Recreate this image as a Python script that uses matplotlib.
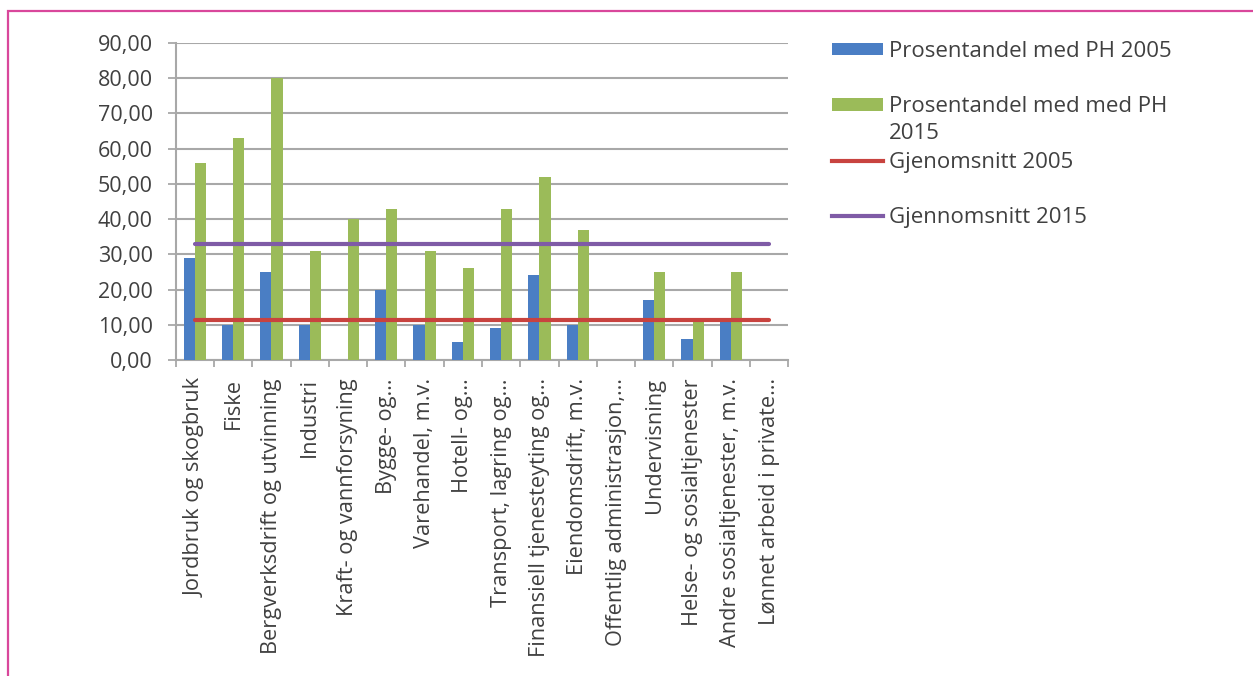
import matplotlib
matplotlib.use("Agg")
import matplotlib.pyplot as plt
import numpy as np
from matplotlib.patches import Rectangle, Patch
from matplotlib.lines import Line2D

categories = [
    "Jordbruk og skogbruk", "Fiske", "Bergverksdrift og utvinning", "Industri",
    "Kraft- og vannforsyning", "Bygge- og…", "Varehandel, m.v.", "Hotell- og…",
    "Transport, lagring og…", "Finansiell tjenesteyting og…", "Eiendomsdrift, m.v.",
    "Offentlig administrasjon,…", "Undervisning", "Helse- og sosialtjenester",
    "Andre sosialtjenester, m.v.", "Lønnet arbeid i private…",
]
ph_2005 = [29, 10, 25, 10, 0, 20, 10, 5, 9, 24, 10, 0, 17, 6, 11, 0]
ph_2015 = [56, 63, 80, 31, 40, 43, 31, 26, 43, 52, 37, 0, 25, 11, 25, 0]
avg_2005 = 11.4
avg_2015 = 33.0
yticks = [0, 10, 20, 30, 40, 50, 60, 70, 80, 90]

label_2005 = "Prosentandel med PH 2005"
label_2015 = "Prosentandel med med PH"
label_2015_line2 = "2015"
label_avg05 = "Gjenomsnitt 2005"
label_avg15 = "Gjennomsnitt 2015"

BLUE = "#4A7EC4"
GREEN = "#9BBB59"
RED = "#C8433F"
PURPLE = "#7F5BA6"
TXT = "#404040"
GRID = "#A8A8A8"

plt.rcParams["font.family"] = ["Open Sans", "DejaVu Sans"]

W, H = 1253, 676
fig = plt.figure(figsize=(W / 100, H / 100), dpi=100)
fig.patch.set_facecolor("white")

ax = fig.add_axes([175.7 / W, 1 - 360 / H, (788.3 - 175.7) / W, (360 - 43) / H])

x = np.arange(len(categories))
bw = 0.29
ax.bar(x - bw / 2, ph_2005, width=bw, color=BLUE, zorder=3)
ax.bar(x + bw / 2, ph_2015, width=bw, color=GREEN, zorder=3)
ax.plot([x[0], x[-1]], [avg_2005, avg_2005], color=RED, lw=3.0, solid_capstyle="round", zorder=4)
ax.plot([x[0], x[-1]], [avg_2015, avg_2015], color=PURPLE, lw=3.0, solid_capstyle="round", zorder=4)

ax.set_xlim(-0.5, len(categories) - 0.5)
ax.set_ylim(0, 90)
ax.set_yticks(yticks)
ax.set_yticklabels([f"{v:.2f}".replace(".", ",") for v in yticks], fontsize=15.5, color=TXT)
ax.yaxis.grid(True, color=GRID, lw=1.5, zorder=0)
ax.set_axisbelow(True)
ax.tick_params(axis="y", length=5.5, width=1.3, color=GRID, pad=11)

ax.set_xticks(x)
ax.set_xticklabels(categories, rotation=90, fontsize=15.7, color=TXT, ha="center", va="top")
ax.tick_params(axis="x", which="major", length=0, pad=13)
ax.set_xticks(np.arange(-0.5, len(categories)), minor=True)
ax.tick_params(axis="x", which="minor", length=5, width=1.3, color=GRID)

for s in ["top", "right"]:
    ax.spines[s].set_visible(False)
for s in ["left", "bottom"]:
    ax.spines[s].set_color(GRID)
    ax.spines[s].set_linewidth(1.5)

handles = [
    Patch(facecolor=BLUE, edgecolor="none"),
    Patch(facecolor=GREEN, edgecolor="none"),
    Line2D([], [], color=RED, lw=3.0),
    Line2D([], [], color=PURPLE, lw=3.0),
]
labels = [label_2005, label_2015, label_avg05, label_avg15]
leg = fig.legend(handles, labels, loc="upper left", bbox_to_anchor=(832 / W, 1 - 41 / H),
                 frameon=False, fontsize=16, labelcolor=TXT, borderpad=0, borderaxespad=0,
                 handlelength=2.3, handleheight=0.5, handletextpad=0.25, labelspacing=1.55)

fig.canvas.draw()
bb = leg.get_texts()[1].get_window_extent()
fig.text(bb.x0 / W, (bb.y0 - 6) / H, label_2015_line2, fontsize=16, color=TXT,
         ha="left", va="top")

fig.add_artist(Rectangle((7.5 / W, -0.1), 1.2, 1 - 11 / H + 0.1, transform=fig.transFigure,
                         fill=False, edgecolor="#D9479B", lw=1.6))

fig.savefig("out.png", dpi=100)
